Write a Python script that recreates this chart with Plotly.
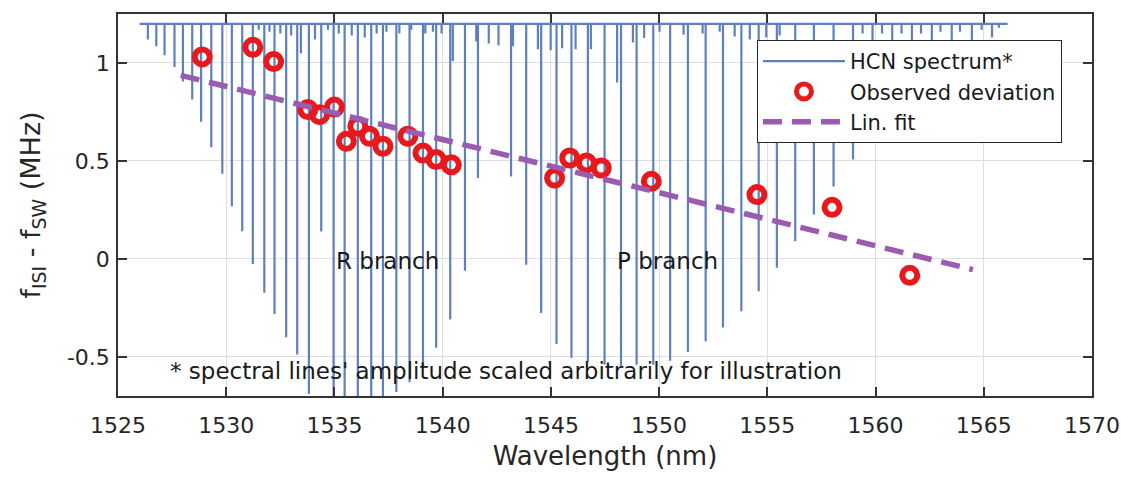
import plotly.graph_objects as go

# ---------------- data ----------------
# main ro-vibrational lines of the HCN spectrum (wavelength nm, minimum of dip)
main_wl = [1526.38, 1526.77, 1527.15, 1527.61, 1528.00, 1528.43, 1528.84, 1529.31,
           1529.82, 1530.26, 1530.74, 1531.23, 1531.76, 1532.23, 1532.77, 1533.28,
           1533.82, 1534.39, 1534.96, 1535.47, 1536.08, 1536.70, 1537.24, 1537.86,
           1538.47, 1539.09, 1539.70, 1540.35, 1541.03, 1541.63,
           1543.16, 1543.86, 1544.55, 1545.26, 1545.95, 1546.71, 1547.48, 1548.24,
           1548.96, 1549.73, 1550.51, 1551.33, 1552.15, 1552.95, 1553.80, 1554.60,
           1555.44, 1556.29, 1557.15, 1558.06, 1558.96, 1559.86, 1560.77, 1561.68,
           1562.60, 1563.52, 1564.45, 1565.38]
main_min = [1.12, 1.085, 1.04, 0.98, 0.906, 0.813, 0.70, 0.57,
            0.434, 0.268, 0.141, -0.026, -0.173, -0.281, -0.40, -0.488,
            -0.69, 0.14, -0.80, -0.80, -0.80, -0.80, -0.80, -0.68,
            -0.63, -0.556, -0.454, -0.31, -0.06, 0.413,
            0.42, -0.03, -0.276, -0.435, -0.505, -0.525, -0.54, -0.55,
            -0.54, -0.54, -0.52, -0.475, -0.42, -0.35, -0.267, -0.165,
            -0.045, 0.09, 0.226, 0.37, 0.507, 0.64, 0.76, 0.87,
            0.96, 1.03, 1.09, 1.13]
# weak (hot-band) lines
weak_wl = [1531.50, 1532.00, 1532.50, 1533.00, 1533.45, 1534.10, 1534.70, 1535.20,
           1535.80, 1536.40, 1536.95, 1537.40, 1538.00, 1538.55, 1539.20, 1539.55,
           1539.95, 1540.47, 1541.55, 1542.13, 1542.58, 1543.25, 1544.40, 1544.99,
           1545.52, 1546.14, 1546.85, 1548.06, 1548.79, 1549.31, 1550.02, 1551.13,
           1552.01, 1552.80, 1553.49, 1554.19, 1554.95, 1555.57, 1559.40, 1560.30,
           1561.20, 1562.10, 1563.00, 1563.90, 1564.90, 1565.70]
weak_min = [1.17, 1.16, 1.15, 1.14, 1.05, 1.12, 1.17, 1.15,
            1.14, 1.13, 1.15, 1.16, 1.15, 1.17, 1.15, 1.16,
            1.15, 1.01, 1.11, 1.10, 1.09, 1.085, 1.07, 1.065,
            1.075, 1.07, 1.07, 0.90, 1.105, 1.127, 1.16, 1.144,
            1.15, 1.16, 1.135, 1.12, 1.13, 1.14, 1.15, 1.15,
            1.15, 1.15, 1.16, 1.16, 1.17, 1.18]
baseline_level = 1.2
baseline_start, baseline_end = 1526.0, 1566.1

# observed deviation f_ISI - f_SW (MHz)
obs_wl = [1528.89, 1531.23, 1532.19, 1533.77, 1534.31, 1535.00, 1535.55, 1536.08,
          1536.62, 1537.24, 1538.39, 1539.09, 1539.70, 1540.40, 1545.17, 1545.87,
          1546.64, 1547.33, 1549.64, 1554.52, 1557.99, 1561.58]
obs_val = [1.031, 1.080, 1.007, 0.762, 0.736, 0.775, 0.600, 0.677,
           0.626, 0.575, 0.626, 0.540, 0.507, 0.480, 0.413, 0.515,
           0.490, 0.464, 0.396, 0.328, 0.263, -0.084]

# linear fit
fit_wl = [1527.9, 1564.5]
fit_val = [0.937, -0.055]

x_ticks = [1525, 1530, 1535, 1540, 1545, 1550, 1555, 1560, 1565, 1570]
y_ticks = [-0.5, 0, 0.5, 1]
y_tick_labels = ["-0.5", "0", "0.5", "1"]

# ---------------- build spectrum path ----------------
lines = sorted(zip(main_wl + weak_wl, main_min + weak_min))
spec_x = [baseline_start]
spec_y = [baseline_level]
for wl, mn in lines:
    spec_x += [wl, wl, wl]
    spec_y += [baseline_level, mn, baseline_level]
spec_x.append(baseline_end)
spec_y.append(baseline_level)

FONT = "DejaVu Sans, Liberation Sans, Arial, sans-serif"
TXT = "#262626"

fig = go.Figure()
fig.add_trace(go.Scatter(
    x=spec_x, y=spec_y, mode="lines", name="HCN spectrum*",
    line=dict(color="#5f80bf", width=2.2)))
fig.add_trace(go.Scatter(
    x=obs_wl, y=obs_val, mode="markers", name="Observed deviation",
    marker=dict(symbol="circle-open", size=15, color="#e8191c",
                line=dict(color="#e8191c", width=6))))
fig.add_trace(go.Scatter(
    x=fit_wl, y=fit_val, mode="lines", name="Lin. fit",
    line=dict(color="#9b5bb0", width=5.5, dash="19px,10px")))

fig.add_annotation(x=1537.43, y=-0.012, text="R branch", showarrow=False,
                   font=dict(family=FONT, size=23, color="#1a1a1a"))
fig.add_annotation(x=1550.39, y=-0.012, text="P branch", showarrow=False,
                   font=dict(family=FONT, size=23, color="#1a1a1a"))
fig.add_annotation(x=1542.93, y=-0.573,
                   text="* spectral lines' amplitude scaled arbitrarily for illustration",
                   showarrow=False, font=dict(family=FONT, size=23, color="#1a1a1a"))

axis_common = dict(showline=True, linecolor="#333333", linewidth=1.5, mirror="ticks",
                   ticks="inside", ticklen=9, tickcolor="#333333", tickwidth=1.5,
                   showgrid=True, gridcolor="#dedede", gridwidth=1.3, zeroline=False,
                   automargin=False,
                   tickfont=dict(family=FONT, size=22, color=TXT))

fig.update_xaxes(range=[1525, 1570], tickvals=x_ticks,
                 title=dict(text="Wavelength (nm)", font=dict(family=FONT, size=26, color=TXT),
                            standoff=10),
                 ticklabelstandoff=9, **axis_common)
fig.update_yaxes(range=[-0.7, 1.25], tickvals=y_ticks, ticktext=y_tick_labels,
                 title=dict(text="f<sub>ISI</sub> - f<sub>SW</sub> (MHz)",
                            font=dict(family=FONT, size=27, color=TXT), standoff=18),
                 ticklabelstandoff=2, **axis_common)

fig.update_layout(
    width=1121, height=477,
    margin=dict(l=118, r=29, t=14, b=81),
    paper_bgcolor="white", plot_bgcolor="white",
    font=dict(family=FONT, color=TXT),
    legend=dict(x=0.656, y=0.932, xanchor="left", yanchor="top",
                bgcolor="white", bordercolor="#262626", borderwidth=1,
                font=dict(family=FONT, size=21, color="#1a1a1a"),
                itemwidth=82),
    showlegend=True,
)

fig.write_html("out.html")
